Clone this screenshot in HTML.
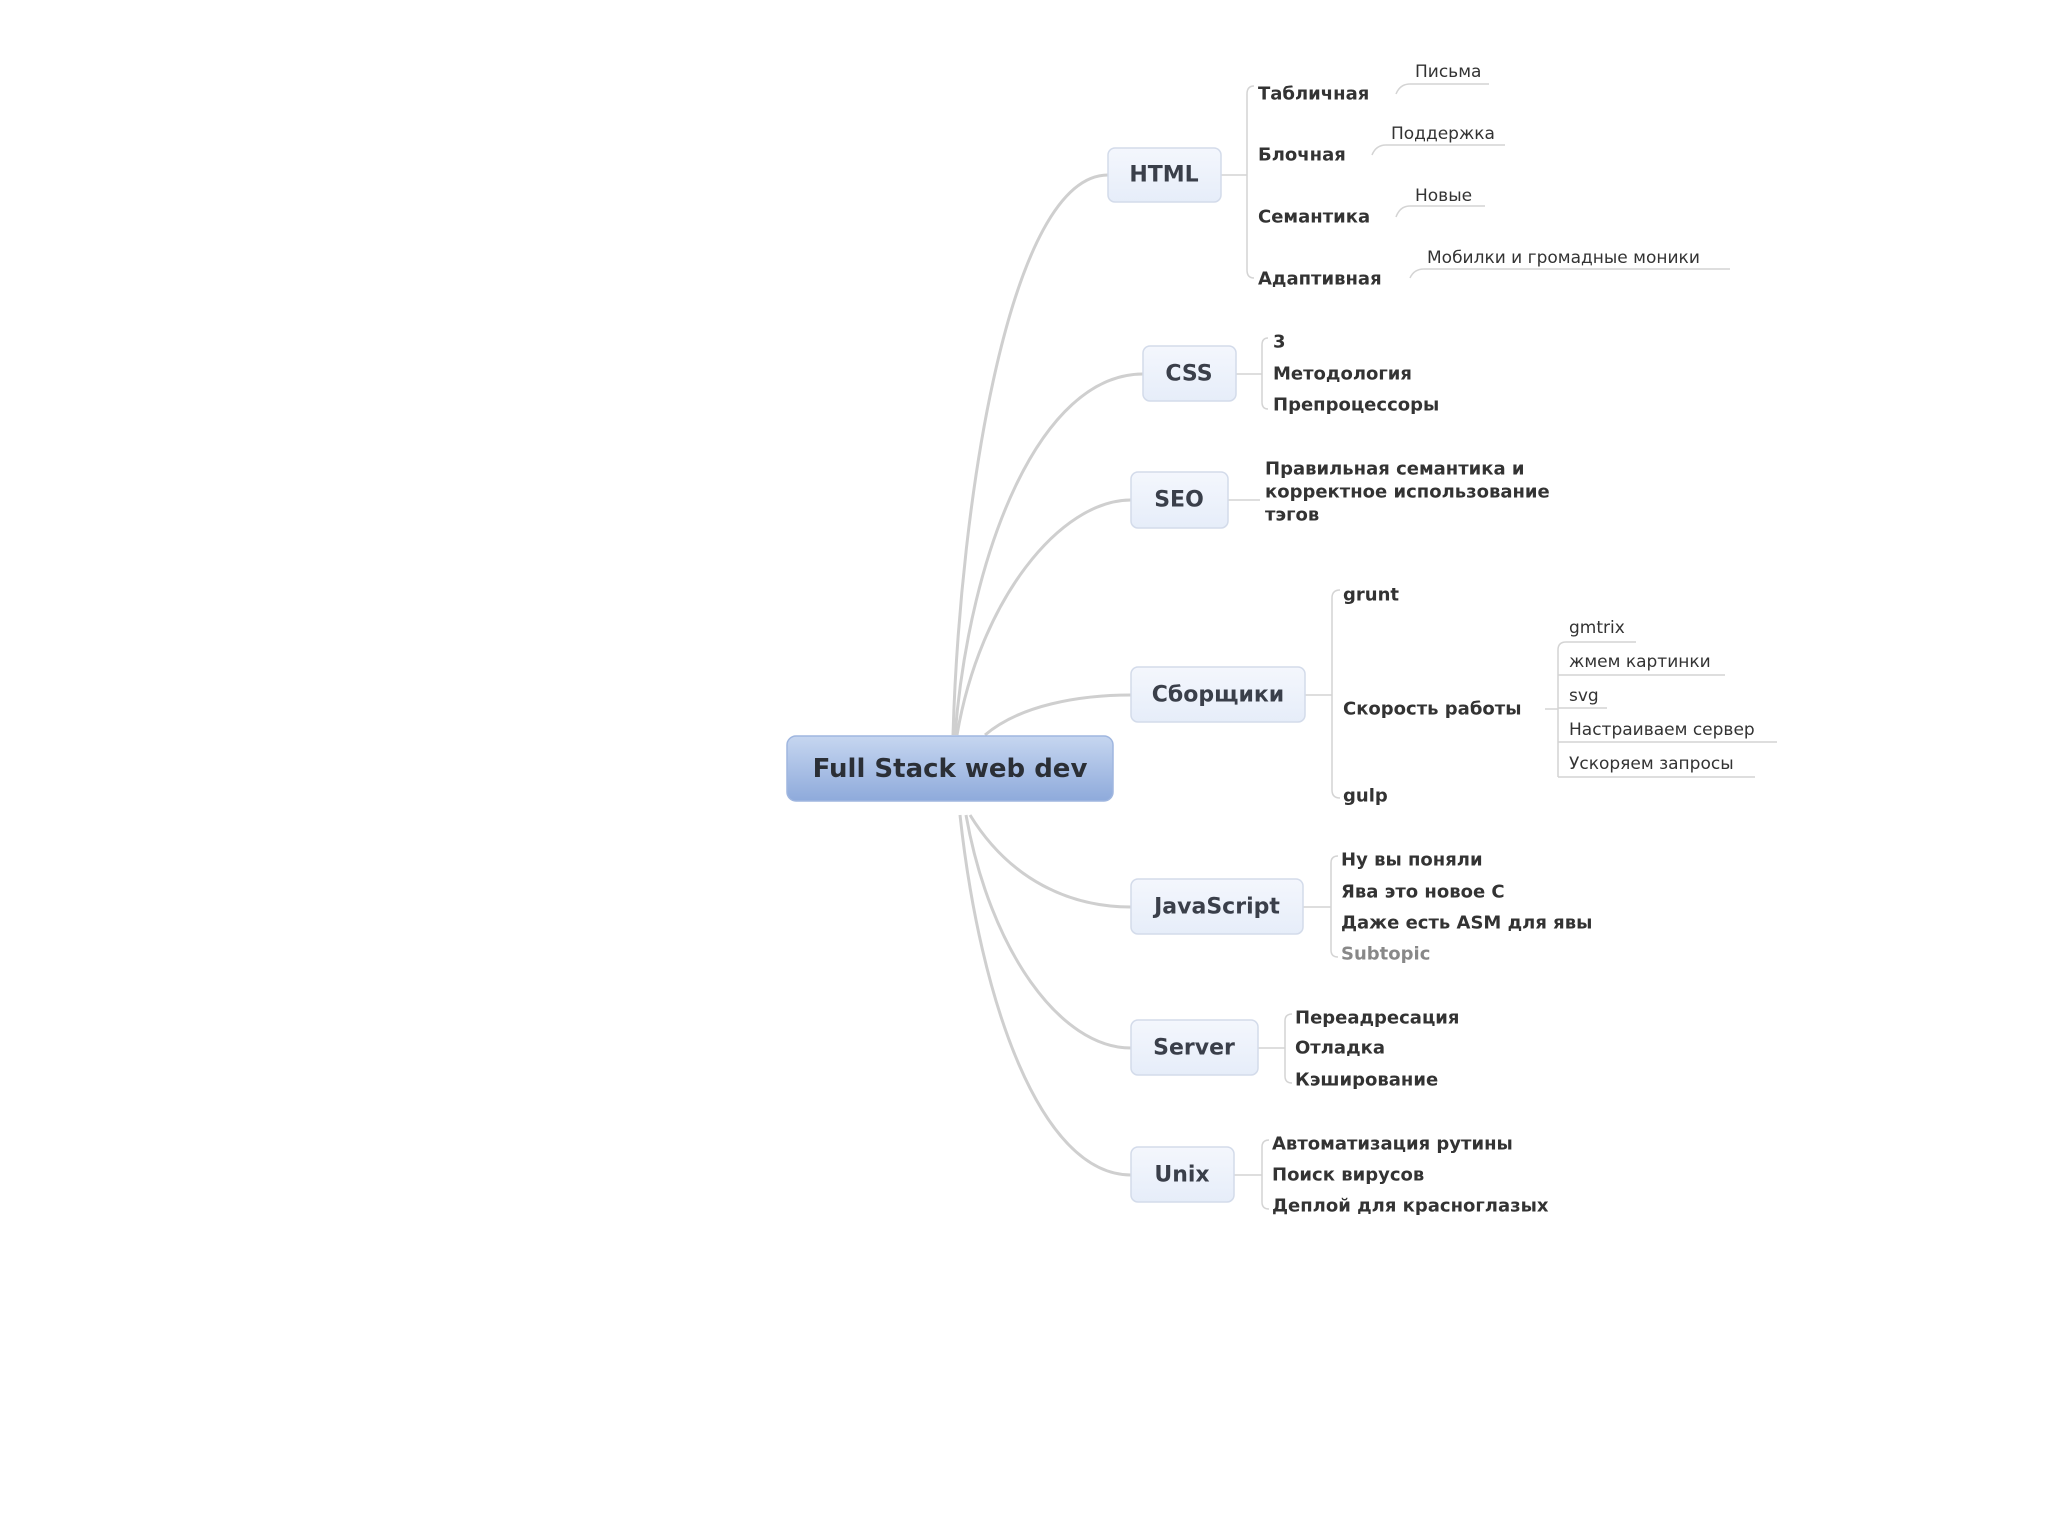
<!DOCTYPE html>
<html><head><meta charset="utf-8"><style>
html,body{margin:0;padding:0;background:#fff;}
svg{display:block;}
text{font-family:"DejaVu Sans","Liberation Sans",sans-serif;fill:#333;}
.b{font-weight:bold;font-size:18px;}
.n{font-size:17px;}
.box{font-weight:bold;font-size:22px;fill:#3a3f4a;}
</style></head><body>
<svg width="2048" height="1536" viewBox="0 0 2048 1536" xmlns="http://www.w3.org/2000/svg">
<defs>
<linearGradient id="cg" x1="0" y1="0" x2="0" y2="1"><stop offset="0" stop-color="#c6d6f0"/><stop offset="1" stop-color="#8eaadb"/></linearGradient>
<linearGradient id="bg" x1="0" y1="0" x2="0" y2="1"><stop offset="0" stop-color="#f4f7fd"/><stop offset="1" stop-color="#e6edf9"/></linearGradient>
</defs>
<g fill="none" stroke="#cfcfcf" stroke-width="3">
<path d="M953 735 C 960 500, 1010 175, 1108 175"/>
<path d="M955 735 C 970 550, 1040 374, 1143 374"/>
<path d="M957 735 C 980 600, 1060 500, 1131 500"/>
<path d="M985 735 C 1020 705, 1080 695, 1131 695"/>
<path d="M970 815 C 1010 880, 1070 907, 1131 907"/>
<path d="M966 815 C 990 950, 1060 1048, 1131 1048"/>
<path d="M960 815 C 980 1000, 1040 1175, 1131 1175"/>
</g>
<g fill="none" stroke="#d4d4d4" stroke-width="1.5">
<!-- HTML -->
<path d="M1221 175 H1247"/>
<path d="M1254 86 Q1247 86 1247 94 V270 Q1247 278 1254 278"/>
<path d="M1396 94 Q1400 84 1410 84 H1489"/>
<path d="M1372 155 Q1376 145 1386 145 H1505"/>
<path d="M1396 217 Q1400 206 1410 206 H1485"/>
<path d="M1410 278 Q1414 269 1424 269 H1730"/>
<!-- CSS -->
<path d="M1236 374 H1262"/>
<path d="M1268 338 Q1262 338 1262 345 V402 Q1262 409 1268 409"/>
<!-- SEO -->
<path d="M1228 500 H1260"/>
<!-- Sborshiki -->
<path d="M1305 695 H1332"/>
<path d="M1340 590 Q1332 590 1332 598 V790 Q1332 798 1340 798"/>
<path d="M1545 709 H1558"/>
<path d="M1558 777 V650 Q1558 642 1566 642 H1636"/>
<path d="M1558 675 H1725"/><path d="M1558 708 H1607"/><path d="M1558 742 H1777"/><path d="M1558 777 H1755"/>
<!-- JS -->
<path d="M1303 907 H1331"/>
<path d="M1338 856 Q1331 856 1331 863 V950 Q1331 957 1338 957"/>
<!-- Server -->
<path d="M1258 1048 H1285"/>
<path d="M1292 1014 Q1285 1014 1285 1021 V1076 Q1285 1083 1292 1083"/>
<!-- Unix -->
<path d="M1234 1175 H1262"/>
<path d="M1269 1140 Q1262 1140 1262 1147 V1202 Q1262 1209 1269 1209"/>
</g>
<rect x="787" y="736" width="326" height="65" rx="9" fill="url(#cg)" stroke="#9fb6df" stroke-width="1.5"/>
<text x="950" y="769" text-anchor="middle" dominant-baseline="central" style="font-weight:bold;font-size:26px;fill:#2b2f36">Full Stack web dev</text>
<g fill="url(#bg)" stroke="#d3dbea" stroke-width="1.5">
<rect x="1108" y="148" width="113" height="54" rx="7"/>
<rect x="1143" y="346" width="93" height="55" rx="7"/>
<rect x="1131" y="472" width="97" height="56" rx="7"/>
<rect x="1131" y="667" width="174" height="55" rx="7"/>
<rect x="1131" y="879" width="172" height="55" rx="7"/>
<rect x="1131" y="1020" width="127" height="55" rx="7"/>
<rect x="1131" y="1147" width="103" height="55" rx="7"/>
</g>
<g class="box" text-anchor="middle" dominant-baseline="central">
<text class="box" x="1164" y="175" text-anchor="middle" dominant-baseline="central">HTML</text>
<text class="box" x="1189" y="374" text-anchor="middle" dominant-baseline="central">CSS</text>
<text class="box" x="1179" y="500" text-anchor="middle" dominant-baseline="central">SEO</text>
<text class="box" x="1218" y="695" text-anchor="middle" dominant-baseline="central">Сборщики</text>
<text class="box" x="1217" y="907" text-anchor="middle" dominant-baseline="central">JavaScript</text>
<text class="box" x="1194" y="1048" text-anchor="middle" dominant-baseline="central">Server</text>
<text class="box" x="1182" y="1175" text-anchor="middle" dominant-baseline="central">Unix</text>
</g>
<g dominant-baseline="central">
<text class="b" x="1258" y="94">Табличная</text>
<text class="b" x="1258" y="155">Блочная</text>
<text class="b" x="1258" y="217">Семантика</text>
<text class="b" x="1258" y="279">Адаптивная</text>
<text class="n" x="1415" y="72">Письма</text>
<text class="n" x="1391" y="134">Поддержка</text>
<text class="n" x="1415" y="196">Новые</text>
<text class="n" x="1427" y="258">Мобилки и громадные моники</text>
<text class="b" x="1273" y="342">3</text>
<text class="b" x="1273" y="374">Методология</text>
<text class="b" x="1273" y="405">Препроцессоры</text>
<text class="b" x="1265" y="469">Правильная семантика и</text>
<text class="b" x="1265" y="492">корректное использование</text>
<text class="b" x="1265" y="515">тэгов</text>
<text class="b" x="1343" y="595">grunt</text>
<text class="b" x="1343" y="709">Скорость работы</text>
<text class="b" x="1343" y="796">gulp</text>
<text class="n" x="1569" y="628">gmtrix</text>
<text class="n" x="1569" y="662">жмем картинки</text>
<text class="n" x="1569" y="696">svg</text>
<text class="n" x="1569" y="730">Настраиваем сервер</text>
<text class="n" x="1569" y="764">Ускоряем запросы</text>
<text class="b" x="1341" y="860">Ну вы поняли</text>
<text class="b" x="1341" y="892">Ява это новое С</text>
<text class="b" x="1341" y="923">Даже есть ASM для явы</text>
<text class="b" x="1341" y="954" style="fill:#888">Subtopic</text>
<text class="b" x="1295" y="1018">Переадресация</text>
<text class="b" x="1295" y="1048">Отладка</text>
<text class="b" x="1295" y="1080">Кэширование</text>
<text class="b" x="1272" y="1144">Автоматизация рутины</text>
<text class="b" x="1272" y="1175">Поиск вирусов</text>
<text class="b" x="1272" y="1206">Деплой для красноглазых</text>
</g>
</svg>
</body></html>
